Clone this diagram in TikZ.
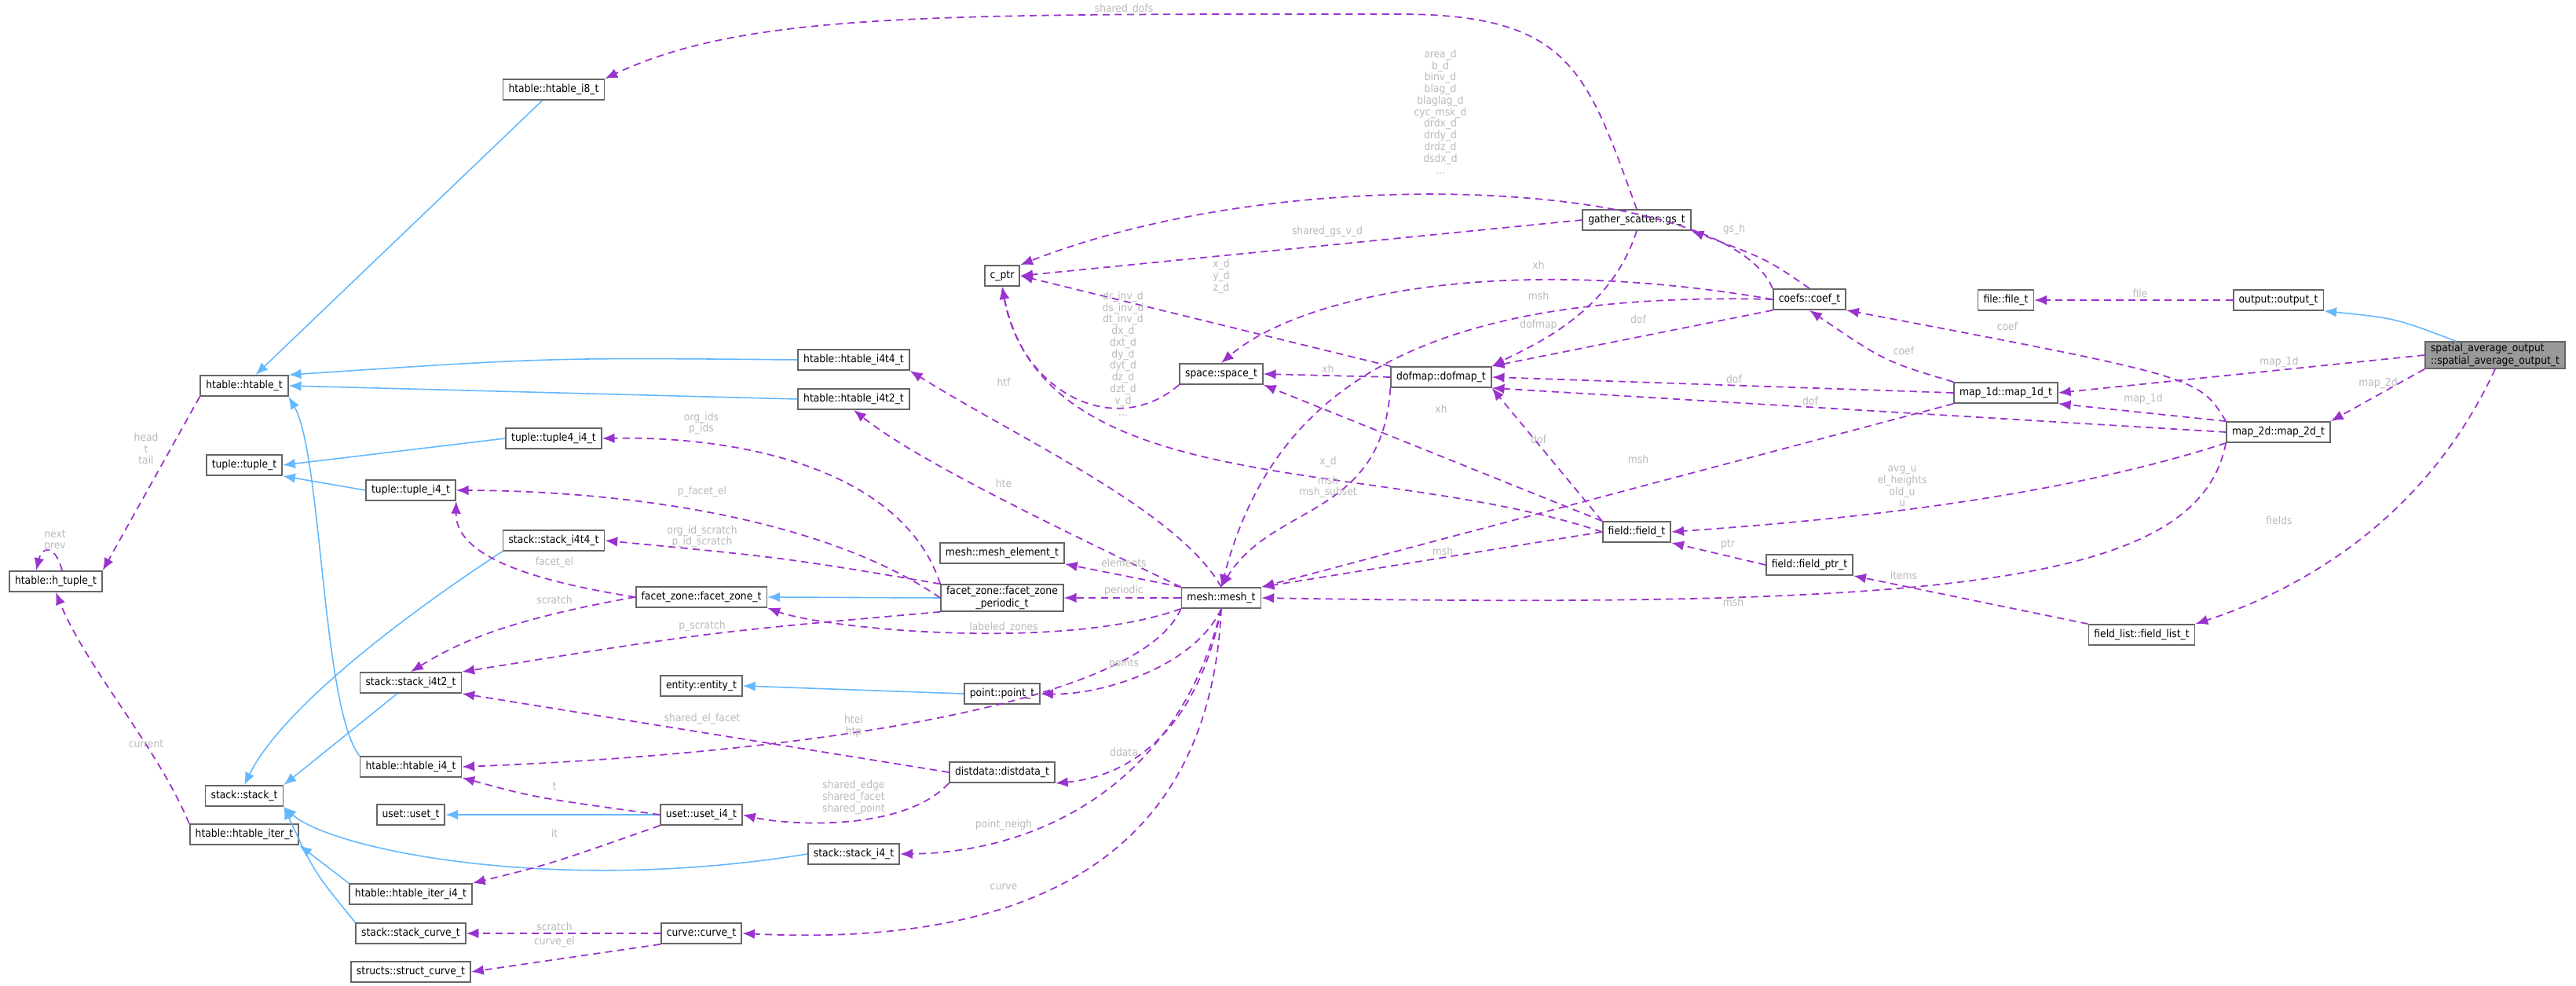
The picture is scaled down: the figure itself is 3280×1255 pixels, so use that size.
\documentclass[tikz,border=0pt]{standalone}
\usepackage{fontspec}
\setmainfont{DejaVu Sans Condensed}
\usepackage{xcolor}
\usepackage{tikz}
\usetikzlibrary{arrows.meta}
\definecolor{inhblue}{RGB}{99,184,255}
\definecolor{usepurple}{RGB}{154,50,205}
\definecolor{lblgray}{RGB}{185,185,185}
\definecolor{mainfill}{RGB}{153,153,153}

\begin{document}
\begin{tikzpicture}
  [
    x=0.01cm, y=0.01cm,
    cls/.style={
       draw=black!60,
       line width=0.5pt,
       fill=white,
       minimum height=0.26cm,
       inner xsep=0.07cm,
       inner ysep=0.02cm,
       font=\fontsize{3.9}{4.6}\selectfont
    },
    inh/.style={
       draw=inhblue,
       line width=0.45pt,
       -{Latex[length=4.5pt,width=3.6pt]}
    },
    use/.style={
       draw=usepurple,
       line width=0.5pt,
       dash pattern=on 2.6pt off 1.8pt,
       -{Latex[length=4.5pt,width=3.6pt]}
    },
    lbl/.style={
       text=lblgray,
       align=center,
       inner sep=0pt,
       font=\fontsize{3.9}{4.2}\selectfont
    }
  ]
  \useasboundingbox (0,0) rectangle (3280,-1255);

  % classes
  \node (i8)      at ( 705, -114) [cls] {htable::htable\_i8\_t};
  \node (htab)    at ( 311, -491) [cls] {htable::htable\_t};
  \node (htuple)  at (  71, -740) [cls] {htable::h\_tuple\_t};
  \node (tup)     at ( 311, -592) [cls] {tuple::tuple\_t};
  \node (tup4)    at ( 705, -558) [cls] {tuple::tuple4\_i4\_t};
  \node (tupi4)   at ( 523, -624) [cls] {tuple::tuple\_i4\_t};
  \node (i4t4)    at (1087, -458) [cls] {htable::htable\_i4t4\_t};
  \node (i4t2)    at (1087, -508) [cls] {htable::htable\_i4t2\_t};
  \node (sti4t4)  at ( 705, -688) [cls] {stack::stack\_i4t4\_t};
  \node (fzone)   at ( 893, -760) [cls] {facet\_zone::facet\_zone\_t};
  \node (sti4t2)  at ( 523, -869) [cls] {stack::stack\_i4t2\_t};
  \node (entity)  at ( 893, -873) [cls] {entity::entity\_t};
  \node (hti4)    at ( 523, -976) [cls] {htable::htable\_i4\_t};
  \node (stack)   at ( 311,-1013) [cls] {stack::stack\_t};
  \node (uset)    at ( 523,-1037) [cls] {uset::uset\_t};
  \node (useti4)  at ( 893,-1037) [cls] {uset::uset\_i4\_t};
  \node (iter)    at ( 311,-1062) [cls] {htable::htable\_iter\_t};
  \node (sti4)    at (1087,-1087) [cls] {stack::stack\_i4\_t};
  \node (iteri4)  at ( 523,-1138) [cls] {htable::htable\_iter\_i4\_t};
  \node (stcurve) at ( 523,-1188) [cls] {stack::stack\_curve\_t};
  \node (curve)   at ( 893,-1188) [cls] {curve::curve\_t};
  \node (scurve)  at ( 523,-1237) [cls] {structs::struct\_curve\_t};
  \node (cptr)    at (1276, -351) [cls] {c\_ptr};
  \node (space)   at (1555, -476) [cls] {space::space\_t};
  \node (dofmap)  at (1835, -480) [cls] {dofmap::dofmap\_t};
  \node (gs)      at (2084, -280) [cls] {gather\_scatter::gs\_t};
  \node (melem)   at (1276, -704) [cls] {mesh::mesh\_element\_t};
  \node (fzper)   at (1276, -761) [cls, align=center] {facet\_zone::facet\_zone\\\_periodic\_t};
  \node (mesh)    at (1555, -761) [cls] {mesh::mesh\_t};
  \node (point)   at (1276, -883) [cls] {point::point\_t};
  \node (ddata)   at (1276, -983) [cls] {distdata::distdata\_t};
  \node (field)   at (2084, -677) [cls] {field::field\_t};
  \node (coef)    at (2304, -381) [cls] {coefs::coef\_t};
  \node (file)    at (2554, -382) [cls] {file::file\_t};
  \node (output)  at (2901, -382) [cls] {output::output\_t};
  \node (spavg)   at (3177, -452) [cls, fill=mainfill, align=left] {spatial\_average\_output\\::spatial\_average\_output\_t};
  \node (map1d)   at (2554, -500) [cls] {map\_1d::map\_1d\_t};
  \node (map2d)   at (2901, -550) [cls] {map\_2d::map\_2d\_t};
  \node (fptr)    at (2304, -719) [cls] {field::field\_ptr\_t};
  \node (flist)   at (2727, -808) [cls] {field\_list::field\_list\_t};

  % inheritance
  \draw [inh] (i8) -- (htab);
  \draw [inh] (i4t4.west) .. controls (700,-455) .. (htab.north east);
  \draw [inh] (i4t2.west) -- (htab.east);
  \draw [inh] (hti4.north west) .. controls (410,-900) and (410,-580) .. (htab.south east);
  \draw [inh] (tup4.west) -- (tup.east);
  \draw [inh] (tupi4.west) -- (tup.south east);
  \draw [inh] (sti4t4.south west) .. controls (520,-780) and (360,-900) .. (stack.north);
  \draw [inh] (sti4t2) -- (stack.north east);
  \draw [inh] (sti4.west) .. controls (700,-1140) and (420,-1080) .. (stack.south east);
  \draw [inh] (stcurve.north west) .. controls (400,-1110) .. (stack.south east);
  \draw [inh] (iteri4.north west) -- (iter.south east);
  \draw [inh] (useti4.west) -- (uset.east);
  \draw [inh] (point.west) -- (entity.east);
  \draw [inh] (fzper.west) -- (fzone.east);
  \draw [inh] ([xshift=-0.5cm]spavg.north) .. controls (3050,-405) .. (output.south east);

  % usage
  \draw [use] (gs.north) .. controls (2020,-90) and (2000,-18) .. (1780,-18)
              .. controls (1200,-18) and (950,-15) .. (i8.north east);
  \draw [use] (htab.south west) -- (htuple.north east);
  \draw [use] ([xshift=0.08cm]htuple.north) .. controls +(-8,32) and +(8,32) .. ([xshift=-0.25cm]htuple.north);
  \draw [use] (iter.north west) .. controls (200,-950) and (110,-850) .. (htuple.south);
  \draw [use] (fzper.north west) .. controls (1150,-600) and (950,-555) .. (tup4.east);
  \draw [use] (fzper.west) .. controls (1050,-660) and (800,-625) .. (tupi4.east);
  \draw [use] (fzper.north west) .. controls (1000,-710) .. (sti4t4.east);
  \draw [use] (fzone.west) .. controls (650,-735) and (580,-700) .. (tupi4.south east);
  \draw [use] (fzone.west) .. controls (640,-790) and (580,-820) .. (sti4t2.north);
  \draw [use] (fzper.south west) .. controls (900,-805) .. (sti4t2.north east);
  \draw [use] (mesh.south west) .. controls (1350,-830) and (1050,-800) .. (fzone.south east);
  \draw [use] (ddata.west) -- (sti4t2.south east);
  \draw [use] (mesh.south west) .. controls (1450,-900) and (1000,-960) .. (hti4.east);
  \draw [use] (useti4.west) .. controls (680,-1015) .. (hti4.south east);
  \draw [use] (useti4.south west) .. controls (700,-1100) .. (iteri4.north east);
  \draw [use] (ddata.south west) .. controls (1150,-1060) and (1000,-1050) .. (useti4.east);
  \draw [use] (mesh.south) .. controls (1500,-1000) and (1320,-1085) .. (sti4.east);
  \draw [use] (curve.west) -- (stcurve.east);
  \draw [use] (curve.south west) -- (scurve.east);
  \draw [use] (mesh.south) .. controls (1540,-1100) and (1300,-1205) .. (curve.east);
  \draw [use] (mesh.south) .. controls (1520,-950) and (1420,-990) .. (ddata.south east);
  \draw [use] (mesh.south) .. controls (1520,-850) and (1400,-885) .. (point.east);
  \draw [use] (mesh.north west) -- (melem.south east);
  \draw [use] (mesh.west) -- (fzper.east);
  \draw [use] (mesh.north) .. controls (1500,-650) and (1300,-560) .. (i4t4.south east);
  \draw [use] (mesh.north west) .. controls (1300,-650) and (1160,-580) .. (i4t2.south);
  \draw [use] (gs.west) -- (cptr.east);
  \draw [use] (coef.north west) .. controls (2200,-230) and (1650,-200) .. (cptr.north east);
  \draw [use] (space.south west) .. controls (1420,-560) and (1300,-500) .. (cptr.south);
  \draw [use] (dofmap.north west) -- (cptr.east);
  \draw [use] (field.west) .. controls (1750,-580) and (1330,-640) .. (cptr.south);
  \draw [use] (coef.west) .. controls (1900,-320) and (1650,-380) .. (space.north);
  \draw [use] (dofmap.west) -- (space.east);
  \draw [use] (field.north west) -- (space.south east);
  \draw [use] (coef.west) .. controls (1800,-370) and (1620,-500) .. (mesh.north);
  \draw [use] (dofmap.south west) .. controls (1760,-660) and (1620,-640) .. (mesh.north);
  \draw [use] (field.west) -- (mesh.north east);
  \draw [use] (map1d.south west) -- (mesh.north east);
  \draw [use] (map2d.south west) .. controls (2800,-740) and (2500,-776) .. (mesh.east);
  \draw [use] (gs.south) .. controls (2050,-400) and (1950,-440) .. (dofmap.north east);
  \draw [use] (coef.south west) -- (dofmap.north east);
  \draw [use] (field.north west) -- (dofmap.south east);
  \draw [use] (map1d.west) -- (dofmap.east);
  \draw [use] (map2d.west) -- (dofmap.south east);
  \draw [use] (coef.north) .. controls (2250,-330) .. (gs.south east);
  \draw [use] (map1d.north west) .. controls (2400,-460) .. (coef.south);
  \draw [use] (map2d.north west) .. controls (2800,-480) .. (coef.south east);
  \draw [use] (map2d.north west) -- (map1d.south east);
  \draw [use] (map2d.south west) .. controls (2600,-640) and (2300,-665) .. (field.east);
  \draw [use] (fptr.west) -- (field.south east);
  \draw [use] (flist.north west) -- (fptr.south east);
  \draw [use] (output.west) -- (file.east);
  \draw [use] (spavg.west) -- (map1d.east);
  \draw [use] (spavg.south west) -- (map2d.north east);
  \draw [use] (spavg.south) .. controls (3080,-680) and (2900,-760) .. (flist.north east);

  % edge labels
  \node (l01) at (1431,  -12) [lbl] {shared\_dofs};
  \node (l02) at ( 186, -571) [lbl] {head\\t\\tail};
  \node (l03) at (  70, -688) [lbl] {next\\prev};
  \node (l04) at ( 186, -947) [lbl] {current};
  \node (l05) at ( 893, -539) [lbl] {org\_ids\\p\_ids};
  \node (l06) at ( 894, -626) [lbl] {p\_facet\_el};
  \node (l07) at ( 894, -683) [lbl] {org\_id\_scratch\\p\_id\_scratch};
  \node (l08) at ( 706, -716) [lbl] {facet\_el};
  \node (l09) at ( 706, -763) [lbl] {scratch};
  \node (l10) at ( 894, -797) [lbl] {p\_scratch};
  \node (l11) at ( 894, -915) [lbl] {shared\_el\_facet};
  \node (l12) at (1087, -924) [lbl] {htel\\htp};
  \node (l13) at ( 706,-1001) [lbl] {t};
  \node (l14) at ( 706,-1060) [lbl] {it};
  \node (l15) at (1087,-1015) [lbl] {shared\_edge\\shared\_facet\\shared\_point};
  \node (l16) at ( 706,-1179) [lbl] {scratch};
  \node (l17) at ( 706,-1199) [lbl] {curve\_el};
  \node (l18) at (1834, -142) [lbl] {area\_d\\b\_d\\binv\_d\\blag\_d\\blaglag\_d\\cyc\_msk\_d\\drdx\_d\\drdy\_d\\drdz\_d\\dsdx\_d\\...};
  \node (l19) at (1690, -295) [lbl] {shared\_gs\_v\_d};
  \node (l20) at (1555, -352) [lbl] {x\_d\\y\_d\\z\_d};
  \node (l21) at (1430, -450) [lbl] {dr\_inv\_d\\ds\_inv\_d\\dt\_inv\_d\\dx\_d\\dxt\_d\\dy\_d\\dyt\_d\\dz\_d\\dzt\_d\\v\_d\\...};
  \node (l22) at (1959, -337) [lbl] {xh};
  \node (l23) at (1959, -376) [lbl] {msh};
  \node (l24) at (1959, -414) [lbl] {dofmap};
  \node (l25) at (2086, -406) [lbl] {dof};
  \node (l26) at (1691, -469) [lbl] {xh};
  \node (l27) at (1835, -520) [lbl] {xh};
  \node (l28) at (1959, -559) [lbl] {dof};
  \node (l29) at (2086, -584) [lbl] {msh};
  \node (l30) at (1278, -486) [lbl] {htf};
  \node (l31) at (1278, -615) [lbl] {hte};
  \node (l32) at (1691, -588) [lbl] {x\_d};
  \node (l33) at (1691, -620) [lbl] {msh\\msh\_subset};
  \node (l34) at (1431, -716) [lbl] {elements};
  \node (l35) at (1431, -752) [lbl] {periodic};
  \node (l36) at (1278, -799) [lbl] {labeled\_zones};
  \node (l37) at (1837, -701) [lbl] {msh};
  \node (l38) at (1431, -845) [lbl] {points};
  \node (l39) at (1431, -957) [lbl] {ddata};
  \node (l40) at (1278,-1050) [lbl] {point\_neigh};
  \node (l41) at (1278,-1129) [lbl] {curve};
  \node (l42) at (2208, -292) [lbl] {gs\_h};
  \node (l43) at (2725, -373) [lbl] {file};
  \node (l44) at (2556, -415) [lbl] {coef};
  \node (l45) at (2424, -446) [lbl] {coef};
  \node (l46) at (2902, -461) [lbl] {map\_1d};
  \node (l47) at (3028, -488) [lbl] {map\_2d};
  \node (l48) at (2208, -482) [lbl] {dof};
  \node (l49) at (2305, -510) [lbl] {dof};
  \node (l50) at (2729, -508) [lbl] {map\_1d};
  \node (l51) at (2422, -619) [lbl] {avg\_u\\el\_heights\\old\_u\\u};
  \node (l52) at (2200, -693) [lbl] {ptr};
  \node (l53) at (2424, -732) [lbl] {items};
  \node (l54) at (2902, -662) [lbl] {fields};
  \node (l55) at (2207, -766) [lbl] {msh};
\end{tikzpicture}
\end{document}
